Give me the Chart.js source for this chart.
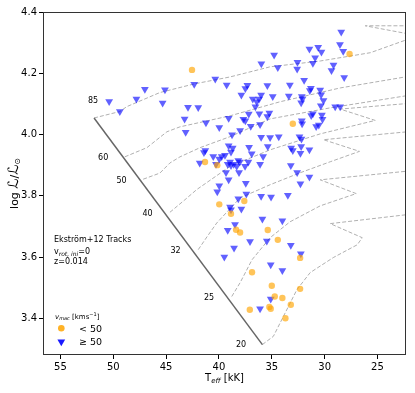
<!DOCTYPE html>
<html><head><meta charset="utf-8">
<script src="https://cdn.jsdelivr.net/npm/chart.js@4/dist/chart.umd.min.js"></script>
<style>html,body{margin:0;padding:0;background:#fff;}canvas{display:block;}</style>
</head><body>
<canvas id="c" width="415" height="393"></canvas>
<script>
// ---- data ----
const xTicks = [25, 30, 35, 40, 45, 50, 55];
const yTicks = [3.4, 3.6, 3.8, 4.0, 4.2, 4.4];

// v_mac >= 50 (blue triangles)
const fastTeff = [50.39,49.38,47.81,47.01,45.11,45.33,34.78,35.99,34.43,40.35,42.34,39.27,37.31,37.50,35.42,37.88,36.01,36.80,36.20,36.42,34.91,36.55,42.93,41.96,43.25,39.08,37.18,37.69,37.50,36.18,35.23,35.42,41.23,36.99,36.11,39.97,38.00,43.15,38.76,36.01,35.16,34.34,28.43,30.61,31.44,30.30,28.55,28.24,30.90,32.57,31.11,32.60,29.16,29.35,28.15,31.94,33.29,31.30,31.40,30.42,30.33,33.39,32.16,32.10,32.22,30.11,30.36,29.00,28.53,31.11,31.27,30.26,30.20,32.16,32.13,30.80,30.55,32.38,32.19,32.22,33.17,33.01,32.29,31.44,33.20,32.60,31.44,32.29,35.07,33.48,34.00,33.20,39.08,38.70,37.15,35.38,41.29,41.42,38.86,36.90,40.54,39.97,39.74,39.43,35.82,41.82,38.95,38.17,37.22,40.28,39.17,38.86,38.60,38.03,38.32,37.53,36.11,39.33,38.10,39.08,37.46,39.97,40.16,38.17,37.41,36.01,38.95,38.86,37.88,35.89,38.48,39.17,37.06,35.47,38.57,39.49,32.25,35.10,34.00,35.10,36.11];
const fastLogL = [4.108,4.075,4.116,4.148,4.146,4.103,4.260,4.231,4.219,4.181,4.164,4.162,4.161,4.150,4.160,4.129,4.129,4.116,4.116,4.107,4.124,4.091,4.089,4.088,4.051,4.053,4.067,4.050,4.045,4.068,4.070,4.059,4.038,4.027,4.033,4.023,4.013,4.007,3.999,3.991,3.990,3.993,4.335,4.285,4.279,4.269,4.294,4.272,4.251,4.236,4.233,4.214,4.227,4.209,4.186,4.177,4.162,4.151,4.144,4.145,4.130,4.126,4.124,4.116,4.104,4.111,4.094,4.091,4.091,4.068,4.062,4.064,4.050,4.045,4.035,4.026,4.031,3.993,3.985,3.961,3.956,3.948,3.939,3.950,3.899,3.876,3.861,3.839,3.796,3.802,3.718,3.638,3.963,3.956,3.958,3.961,3.948,3.941,3.943,3.937,3.928,3.920,3.928,3.932,3.928,3.907,3.910,3.915,3.910,3.903,3.903,3.899,3.903,3.910,3.896,3.896,3.903,3.876,3.876,3.852,3.841,3.833,3.813,3.790,3.806,3.798,3.763,3.754,3.757,3.724,3.706,3.687,3.651,3.652,3.629,3.600,3.611,3.575,3.556,3.463,3.431];

// v_mac < 50 (orange circles)
const slowTeff = [42.55,27.64,33.01,41.32,40.16,39.97,37.60,38.86,38.38,38.00,35.38,34.43,32.32,36.87,35.00,32.32,34.72,34.00,33.20,35.23,35.10,37.08,33.71];
const slowLogL = [4.211,4.263,4.035,3.910,3.900,3.772,3.783,3.741,3.689,3.680,3.688,3.656,3.597,3.550,3.506,3.496,3.471,3.466,3.444,3.437,3.431,3.428,3.400];

// Ekström+12 tracks (masses in Msun)
const trackMasses = ['85', '60', '50', '40', '32', '25', '20'];
const track85Teff = [51.82,49.38,48.72,45.59,42.36,38.95,35.16,30.42,25.68,22.27,19.05,19.05,26.16,19.05];
const track85LogL = [4.054,4.075,4.091,4.137,4.165,4.188,4.221,4.240,4.267,4.309,4.342,4.309,4.355,4.355];
const track60Teff = [48.91,46.82,45.87,44.92,43.69,38.95,34.21,28.53,22.36,19.05];
const track60LogL = [3.927,3.957,3.983,4.009,4.025,4.061,4.107,4.152,4.188,4.204];
const track50Teff = [47.17,45.59,44.64,43.69,41.79,38.95,35.16,29.47,22.36,19.05];
const track50LogL = [3.854,3.874,3.907,3.927,3.957,3.993,4.051,4.087,4.126,4.139];
const track40Teff = [44.64,43.22,42.11,38.95,35.16,30.42,25.21,28.53,19.05];
const track40LogL = [3.746,3.787,3.820,3.896,3.950,4.002,4.046,4.083,4.110];
const track32Teff = [41.96,41.13,40.21,38.00,35.16,32.32,29.47,26.70,30.11,19.05];
const track32LogL = [3.624,3.666,3.711,3.793,3.836,3.875,3.911,3.945,3.983,4.019];
const track25Teff = [38.79,38.00,36.87,35.16,33.27,30.42,27.01,30.42,19.05];
const track25LogL = [3.471,3.516,3.591,3.663,3.715,3.767,3.807,3.852,3.891];
const track20Teff = [35.89,34.85,33.90,32.63,31.37,29.19,26.91,26.44,29.47,19.05];
const track20LogL = [3.314,3.341,3.406,3.493,3.549,3.598,3.640,3.663,3.709,3.751];
const zamsTeff = [51.82, 35.89];
const zamsLogL = [4.054, 3.314];
const massLabelTeff = [51.91, 50.96, 49.22, 46.75, 44.10, 40.94, 37.91];
const massLabelLogL = [4.111, 3.925, 3.850, 3.741, 3.621, 3.466, 3.313];

// ---- build ----
const pts = (xs, ys) => xs.map((v, i) => ({x: v, y: ys[i]}));
const trackSets = [
  [track85Teff, track85LogL], [track60Teff, track60LogL], [track50Teff, track50LogL],
  [track40Teff, track40LogL], [track32Teff, track32LogL], [track25Teff, track25LogL],
  [track20Teff, track20LogL]
];
const FONT = 'DejaVu Sans';
const BLUE = 'rgba(0,0,255,0.62)';
const ORANGE = 'rgba(255,165,0,0.65)';

const datasets = [
  {label: '< 50', data: pts(slowTeff, slowLogL), pointStyle: 'circle', pointRadius: 3.2,
   backgroundColor: ORANGE, borderColor: ORANGE, borderWidth: 0, order: 0},
  {label: '>= 50', data: pts(fastTeff, fastLogL), pointStyle: 'triangle', rotation: 180, pointRadius: 4.5,
   backgroundColor: BLUE, borderColor: BLUE, borderWidth: 0, order: 1},
  {label: 'ZAMS', data: pts(zamsTeff, zamsLogL), showLine: true, pointRadius: 0,
   borderColor: '#666', borderWidth: 1.5, order: 3, clip: 0}
];
trackSets.forEach((t, i) => datasets.push({
  label: 'M' + trackMasses[i], data: pts(t[0], t[1]), showLine: true, pointRadius: 0,
  borderColor: '#b0b0b0', borderWidth: 1, borderDash: [4, 2], tension: 0, order: 4, clip: 0
}));

function runs(ctx, list, x, y, align) {
  let w = 0;
  list.forEach(r => { ctx.font = r.f; r.w = ctx.measureText(r.t).width; w += r.w; });
  let cx = align === 'center' ? x - w / 2 : x;
  list.forEach(r => { ctx.font = r.f; ctx.fillText(r.t, cx, y + (r.dy || 0)); cx += r.w; });
}

const overlay = {
  id: 'overlay',
  afterDraw(chart) {
    const {ctx, chartArea: a, scales: {x, y}} = chart;
    ctx.save();
    // frame
    ctx.strokeStyle = '#333';
    ctx.lineWidth = 1;
    ctx.strokeRect(a.left + 0.5, a.top + 0.5, a.width - 1, a.height - 1);
    ctx.fillStyle = '#000';
    // mass labels
    ctx.font = '8px ' + FONT;
    ctx.textAlign = 'center';
    ctx.textBaseline = 'middle';
    trackMasses.forEach((m, i) => {
      ctx.fillText(m, x.getPixelForValue(massLabelTeff[i]), y.getPixelForValue(massLabelLogL[i]));
    });
    ctx.textAlign = 'left';
    ctx.textBaseline = 'alphabetic';
    const L = a.left + 11, B = a.bottom;
    runs(ctx, [{t: 'Ekström+12 Tracks', f: '8px ' + FONT}], L, B - 113);
    runs(ctx, [{t: 'v', f: '8px ' + FONT}, {t: 'rot, ini', f: 'italic 6px ' + FONT, dy: 2},
               {t: '=0', f: '8px ' + FONT}], L, B - 101);
    runs(ctx, [{t: 'z=0.014', f: '8px ' + FONT}], L, B - 91);
    // legend
    runs(ctx, [{t: 'v', f: 'italic 7px ' + FONT}, {t: 'mac', f: 'italic 5px ' + FONT, dy: 1.5},
               {t: ' [kms', f: '7px ' + FONT}, {t: '\u22121', f: '5px ' + FONT, dy: -3},
               {t: ']', f: '7px ' + FONT}], a.left + 12, B - 36.5);
    const mx = a.left + 18.3;
    ctx.fillStyle = 'rgba(255,165,0,0.85)';
    ctx.beginPath(); ctx.arc(mx, B - 26.7, 3.3, 0, Math.PI * 2); ctx.fill();
    ctx.fillStyle = 'rgba(0,0,255,0.9)';
    const ty = B - 13.3, r = 4.5;
    ctx.beginPath();
    ctx.moveTo(mx, ty + r);
    ctx.lineTo(mx - r * 0.866, ty - r / 2);
    ctx.lineTo(mx + r * 0.866, ty - r / 2);
    ctx.closePath(); ctx.fill();
    ctx.fillStyle = '#000';
    runs(ctx, [{t: '< 50', f: '9.5px ' + FONT}], a.left + 36, B - 23.5);
    runs(ctx, [{t: '\u2265 50', f: '9.5px ' + FONT}], a.left + 36, B - 10);
    // x title
    runs(ctx, [{t: 'T', f: '10px ' + FONT}, {t: 'eff', f: 'italic 7px ' + FONT, dy: 2},
               {t: ' [kK]', f: '10px ' + FONT}], (a.left + a.right) / 2, 381, 'center');
    // y title
    ctx.save();
    ctx.translate(17.5, (a.top + a.bottom) / 2);
    ctx.rotate(-Math.PI / 2);
    runs(ctx, [{t: 'log ', f: '11px ' + FONT}, {t: '\u2112', f: 'italic 14px ' + FONT},
               {t: '/', f: '11px ' + FONT}, {t: '\u2112', f: 'italic 14px ' + FONT},
               {t: '\u2299', f: '8px ' + FONT, dy: 2.5}], 0, 0, 'center');
    ctx.restore();
    ctx.restore();
  }
};

const tickFont = {family: FONT, size: 10};
new Chart(document.getElementById('c'), {
  type: 'scatter',
  data: {datasets},
  options: {
    responsive: false, animation: false, devicePixelRatio: 1, events: [],
    layout: {padding: {top: 12, right: 9, left: 0, bottom: 0}},
    plugins: {legend: {display: false}, tooltip: {enabled: false}},
    scales: {
      x: {
        type: 'linear', reverse: true, min: 22.3, max: 56.65,
        afterBuildTicks: s => { s.ticks = xTicks.map(v => ({value: v})); },
        afterFit: s => { s.height = 38; },
        grid: {drawOnChartArea: false, drawTicks: true, tickLength: 4, color: '#000', tickColor: '#000'},
        border: {display: false},
        ticks: {font: tickFont, color: '#000', padding: 2, maxRotation: 0, autoSkip: false,
                callback: v => String(v)}
      },
      y: {
        type: 'linear', min: 3.28, max: 4.4,
        afterBuildTicks: s => { s.ticks = yTicks.map(v => ({value: v})); },
        afterFit: s => { s.width = 43; },
        grid: {drawOnChartArea: false, drawTicks: true, tickLength: 4, color: '#000', tickColor: '#000'},
        border: {display: false},
        ticks: {font: tickFont, color: '#000', padding: 2, autoSkip: false,
                callback: v => Number(v).toFixed(1)}
      }
    }
  },
  plugins: [overlay]
});
</script>
</body></html>
